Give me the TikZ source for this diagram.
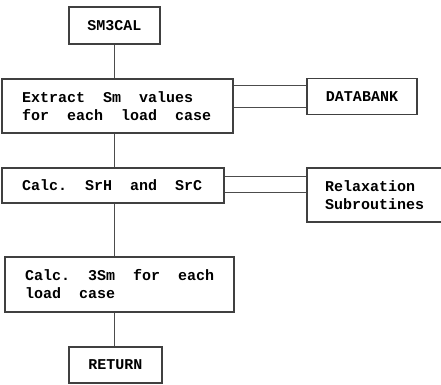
\documentclass[tikz,border=0pt]{standalone}
\usepackage{fontspec}
\setmonofont{Liberation Mono}
\usetikzlibrary{positioning}
\newcommand{\wgap}{\hspace*{18pt}}
\tikzset{
  blk/.style={draw=black!75, line width=1.1pt, inner sep=0pt,
              font=\ttfamily\bfseries\fontsize{15}{18}\selectfont},
  link/.style={draw=black!70, line width=1pt}
}

\begin{document}
\begin{tikzpicture}[x=1pt, y=-1pt]
  \useasboundingbox (0,0) rectangle (441,384);
  \node[blk, minimum width=91pt, minimum height=37pt] (sm) at (114.5,25.5) {SM3CAL};
  \node[blk, minimum width=231pt, minimum height=54pt, text width=191pt, align=left] (ex)
        at (117.5,106) {Extract\wgap Sm\wgap values\\for\wgap each\wgap load\wgap case};
  \node[blk, minimum width=110pt, minimum height=36pt] (db) at (362,96.5) {DATABANK};
  \node[blk, minimum width=222pt, minimum height=35pt, text width=182pt, align=left] (sh)
        at (113,185.5) {Calc.\wgap SrH\wgap and\wgap SrC};
  \node[blk, minimum width=150pt, minimum height=54pt, text width=114pt, align=left] (rl)
        at (382,195) {Relaxation\\Subroutines};
  \node[blk, minimum width=229pt, minimum height=55pt, text width=189pt, align=left] (tm)
        at (119.5,284.5) {Calc.\wgap 3Sm\wgap for\wgap each\\load\wgap case};
  \node[blk, minimum width=93pt, minimum height=36pt] (rt) at (115.5,365) {RETURN};
  % main flow
  \foreach \s/\t in {sm/ex, ex/sh, sh/tm, tm/rt} \draw[link] (\s.south -| sm) -- (\t.north -| sm);
  % side links
  \foreach \d in {-11,11} \draw[link] ([yshift=\d pt]db.west) -- ([yshift=\d pt]db.west -| ex.east);
  \foreach \d in {9,-7} \draw[link] ([yshift=\d pt]sh.east) -- ([yshift=\d pt]sh.east -| rl.west);
\end{tikzpicture}
\end{document}
